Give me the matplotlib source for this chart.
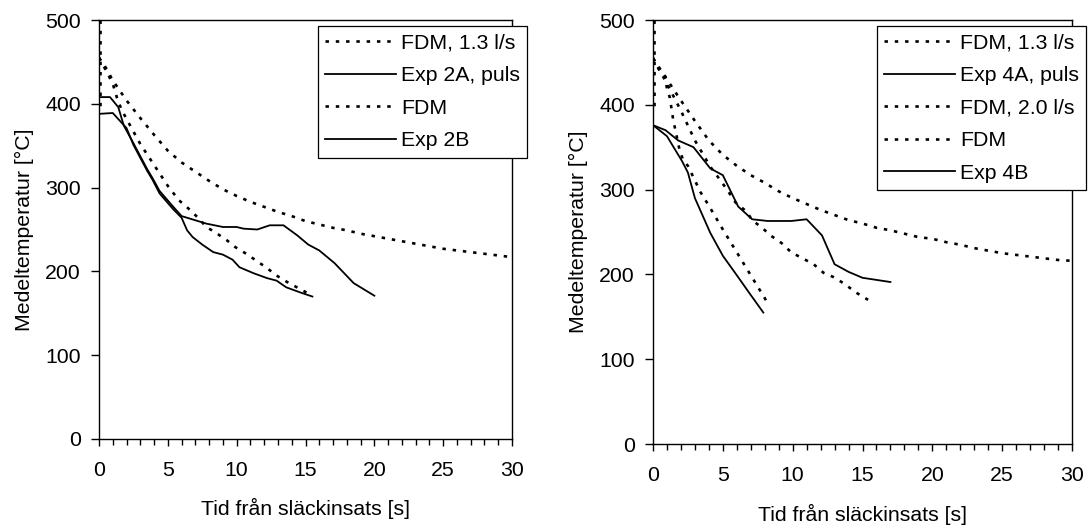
import matplotlib
matplotlib.use("Agg")
import matplotlib.pyplot as plt
from matplotlib.ticker import MultipleLocator

plt.rcParams['font.family'] = ['Liberation Sans', 'DejaVu Sans']
FS = 15.3

# ---------------- data: left panel (Exp 2) ----------------
fdm13_L_t = [0, 0.5, 1, 2, 3, 4, 5, 6, 7, 8, 9, 10, 11, 12, 13, 14, 15, 16, 17, 18, 19, 20,
             21, 22, 23, 24, 25, 26, 27, 28, 29, 30]
fdm13_L_T = [455, 443, 428, 404, 383, 363, 344, 330, 319, 308, 298, 290, 283, 277, 271, 266, 260,
             256, 252, 249, 245, 242, 239, 236, 233, 230, 227, 225, 223, 221, 219, 217]

exp2A_t = [0, 0.8, 1.4, 1.8, 2.5, 3.5, 3.9, 4.4, 5.4, 6.0, 6.6, 7.2, 7.8, 9.0, 10.0, 10.5, 11.5,
           12.4, 13.4, 14.4, 15.2, 16.0, 17.1, 18.5, 20.0]
exp2A_T = [408, 408, 396, 374, 353, 322, 311, 296, 277, 266, 263, 260, 257, 253, 253, 251, 250,
           255, 255, 243, 232, 225, 210, 186, 171]

fdm_L_t = [0, 0.5, 1, 1.4, 1.8, 3, 4, 5, 5.8, 6.5, 7.2, 7.8, 8.5, 9.3, 9.9, 10.7, 11.5, 12.2,
           12.9, 13.7, 14.6, 15.5]
fdm_L_T = [455, 440, 424, 402, 388, 352, 327, 302, 285, 275, 264, 253, 246, 237, 229, 221, 212,
           204, 195, 187, 179, 171]

exp2B_t = [0, 1.0, 2.0, 2.5, 3.5, 3.9, 4.4, 5.4, 6.0, 6.4, 6.8, 7.5, 8.3, 9.0, 9.7, 10.2, 11.2,
           12.2, 12.9, 13.6, 14.6, 15.5]
exp2B_T = [388, 389, 371, 351, 320, 309, 293, 274, 264, 249, 241, 232, 223, 220, 214, 205, 198,
           192, 189, 181, 175, 170]

# ---------------- data: right panel (Exp 4) ----------------
fdm13_R_t = [0, 1, 2, 3, 4, 5, 6, 7, 8, 9, 10, 11, 12, 13, 14, 15, 16, 17, 18, 19, 20, 21, 22,
             23, 24, 25, 26, 27, 28, 29, 30]
fdm13_R_T = [455, 430, 405, 381, 358, 341, 328, 317, 308, 298, 290, 283, 276, 270, 264, 260, 255,
             252, 248, 244, 242, 238, 235, 231, 228, 225, 223, 221, 219, 217, 216]

exp4A_t = [0, 1.0, 2.1, 2.5, 3.0, 4.1, 5.0, 6.0, 6.9, 7.9]
exp4A_T = [376, 363, 333, 320, 290, 249, 222, 199, 178, 155]

fdm20_R_t = [0, 0.45, 0.9, 1.0, 1.2, 1.45, 1.9, 2.15, 2.5, 3.4, 4, 5, 6, 7, 8, 8.2]
fdm20_R_T = [455, 441, 433, 418, 409, 382, 347, 335, 328, 297, 281, 253, 226, 199, 172, 166]

fdm_R_t = [0, 1, 2, 3, 4.1, 4.6, 5.3, 5.9, 6.7, 7.1, 7.8, 8.5, 9.2, 9.9, 10.7, 11.5, 12.2, 12.9,
           13.6, 14.6, 15.4]
fdm_R_T = [455, 425, 393, 358, 327, 316, 300, 285, 274, 264, 255, 245, 237, 226, 219, 212, 202,
           197, 190, 178, 170]

exp4B_t = [0, 0.9, 1.8, 2.9, 4.1, 5.0, 6.1, 7.1, 8.2, 9.9, 11.0, 12.1, 13.0, 14.0, 15.0, 17.0]
exp4B_T = [376, 370, 358, 350, 325, 317, 280, 265, 263, 263, 265, 246, 212, 203, 196, 191]

# initial FDM step at t = 0
fdm_start_t = [0.05, 0.05]
fdm_start_T = [500, 395]

x_ticks = [0, 5, 10, 15, 20, 25, 30]
y_ticks = [0, 100, 200, 300, 400, 500]
xlabel = "Tid från släckinsats [s]"
ylabel = "Medeltemperatur [°C]"

W, H = 1090, 528
fig = plt.figure(figsize=(W / 100, H / 100), dpi=100)

DOT = dict(color='black', lw=1.9, linestyle=(0, (1.3, 2.6)), dash_capstyle='butt')
SOLID = dict(color='black', lw=1.3, solid_joinstyle='round')


def px_axes(l, r, b, t):
    return fig.add_axes([l / W, 1 - b / H, (r - l) / W, (b - t) / H])


def style(ax, xlabelpad):
    ax.set_xlim(0, 30)
    ax.set_ylim(0, 500)
    ax.set_xticks(x_ticks)
    ax.set_yticks(y_ticks)
    ax.xaxis.set_minor_locator(MultipleLocator(1))
    ax.tick_params(axis='x', which='major', direction='out', length=5, width=1, pad=10.5,
                   labelsize=FS, top=False)
    ax.tick_params(axis='x', which='minor', direction='out', length=4, width=1, top=False)
    ax.tick_params(axis='y', which='major', direction='out', length=6, width=1, pad=7,
                   labelsize=FS, right=False)
    for s in ax.spines.values():
        s.set_linewidth(1.0)
        s.set_color('black')
    ax.set_xlabel(xlabel, fontsize=FS, labelpad=xlabelpad)
    ax.set_ylabel(ylabel, fontsize=FS, labelpad=8)


# -------- left panel --------
axL = px_axes(99, 512, 439, 20)
axL.plot(fdm_start_t, fdm_start_T, **DOT)
axL.plot(fdm13_L_t, fdm13_L_T, label="FDM, 1.3 l/s", **DOT)
axL.plot(exp2A_t, exp2A_T, label="Exp 2A, puls", **SOLID)
axL.plot(fdm_L_t, fdm_L_T, label="FDM", **DOT)
axL.plot(exp2B_t, exp2B_T, label="Exp 2B", **SOLID)
style(axL, 13)

# -------- right panel --------
axR = px_axes(653, 1072, 444, 20)
axR.plot(fdm_start_t, fdm_start_T, **DOT)
axR.plot(fdm13_R_t, fdm13_R_T, label="FDM, 1.3 l/s", **DOT)
axR.plot(exp4A_t, exp4A_T, label="Exp 4A, puls", **SOLID)
axR.plot(fdm20_R_t, fdm20_R_T, label="FDM, 2.0 l/s", **DOT)
axR.plot(fdm_R_t, fdm_R_T, label="FDM", **DOT)
axR.plot(exp4B_t, exp4B_T, label="Exp 4B", **SOLID)
style(axR, 14)

leg_kw = dict(loc='upper left', fontsize=FS, frameon=True, fancybox=False, shadow=False,
              framealpha=1, edgecolor='black', handlelength=3.3, handletextpad=0.25,
              labelspacing=0.64, borderpad=0.35, borderaxespad=0)
for ax, (lx, ty) in ((axL, (318, 26)), (axR, (877, 26))):
    h, l = ax.get_legend_handles_labels()
    lg = fig.legend(h, l, bbox_to_anchor=(lx / W, 1 - ty / H),
                    bbox_transform=fig.transFigure, **leg_kw)
    lg.get_frame().set_linewidth(0.9)

fig.savefig("out.png", dpi=100, facecolor='white')
